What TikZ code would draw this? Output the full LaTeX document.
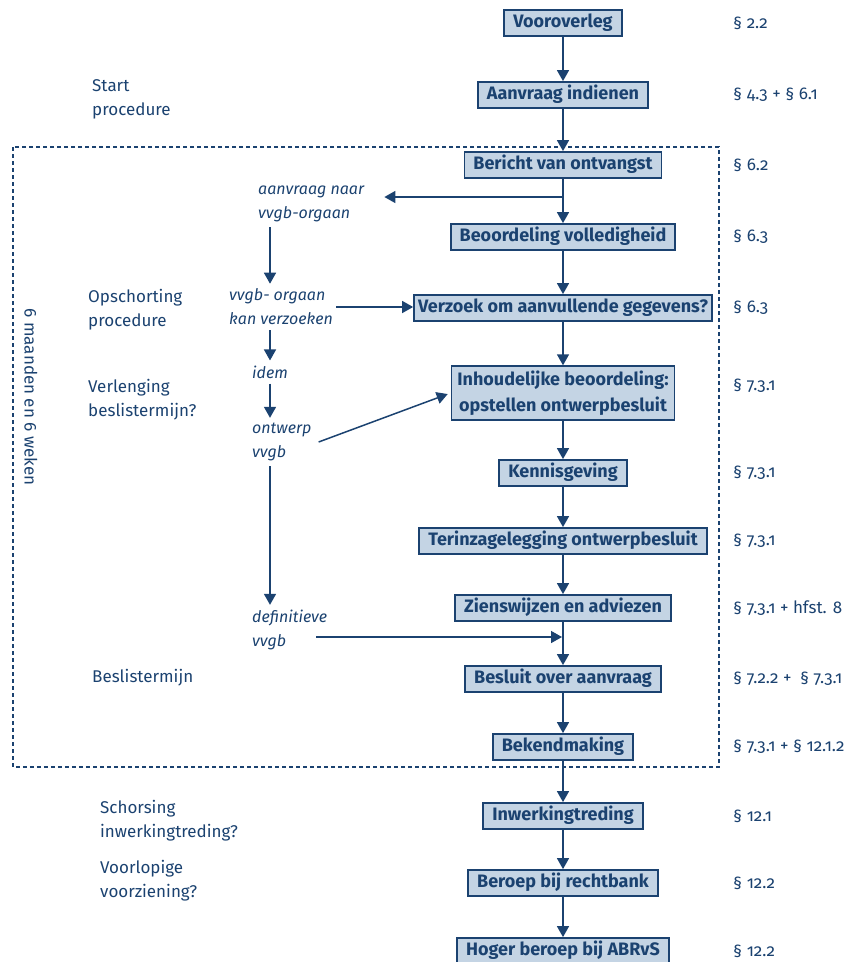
\documentclass[tikz,border=0pt]{standalone}
\usepackage{fontspec}
\setmainfont{Fira Sans}[Numbers=OldStyle]
\usetikzlibrary{arrows.meta,positioning,calc}
\definecolor{rijk}{HTML}{1B4270}
\definecolor{rijkfill}{HTML}{C4D4E4}

\begin{document}
\begin{tikzpicture}[
  x=1pt, y=-1pt,
  every node/.style={text=rijk},
  box/.style={draw=rijk, fill=rijkfill, line width=1.8pt, font=\bfseries\fontsize{18}{22}\selectfont, inner xsep=9pt, inner ysep=0pt, minimum height=26pt, text height=13pt, text depth=4pt},
  twobox/.style={draw=rijk, fill=rijkfill, line width=1.8pt, align=center, font=\bfseries\fontsize{18}{26}\selectfont, inner xsep=6pt, inner ysep=4.5pt},
  phase/.style={anchor=west, align=left, inner sep=0pt, font=\fontsize{17}{24}\selectfont},
  aside/.style={anchor=west, align=left, inner xsep=0pt, inner ysep=5pt, font=\itshape\fontsize{16}{24}\selectfont},
  ref/.style={anchor=west, inner sep=0pt, font=\fontsize{17}{20}\selectfont},
  arrow/.style={-{Triangle[length=11pt, width=12pt]}, line width=1.5pt, draw=rijk}
]
\useasboundingbox (0,0) rectangle (866,962);

% main procedure
\node[box] (voor) at (563,23) {Vooroverleg};
\node[box] (indienen) at (563,95) {Aanvraag indienen};
\node[box] (bericht) at (563,165) {Bericht van ontvangst};
\node[box] (volledig) at (563,237) {Beoordeling volledigheid};
\node[box, inner xsep=4pt] (verzoek) at (563,308) {Verzoek om aanvullende gegevens?};
\node[twobox] (inhoud) at (563,393) {Inhoudelijke beoordeling:\\opstellen ontwerpbesluit};
\node[box] (kennis) at (563,473) {Kennisgeving};
\node[box] (terinzage) at (563,541) {Terinzagelegging ontwerpbesluit};
\node[box] (zienswijze) at (563,608) {Zienswijzen en adviezen};
\node[box] (besluit) at (563,679) {Besluit over aanvraag};
\node[box] (bekend) at (563,747) {Bekendmaking};
\node[box] (inwerking) at (563,816) {Inwerkingtreding};
\node[box] (beroep) at (563,883) {Beroep bij rechtbank};
\node[box] (hoger) at (563,951) {Hoger beroep bij ABRvS};

\foreach \a/\b in {voor/indienen, indienen/bericht, bericht/volledig, volledig/verzoek, verzoek/inhoud, inhoud/kennis, kennis/terinzage, terinzage/zienswijze, zienswijze/besluit, besluit/bekend, bekend/inwerking, inwerking/beroep, beroep/hoger}
  \draw[arrow] (\a) -- (\b);

% 6 months frame
\draw[rijk, line width=1.5pt, dash pattern=on 4pt off 3pt] (13,147) rectangle (719,767);
\node[rotate=-90, font=\fontsize{17}{20}\selectfont] (duur) at (31,397) {6 maanden en 6 weken};

% phases
\node[phase] (start) at (92,99) {Start\\procedure};
\node[phase] (opschort) at (88,310) {Opschorting\\procedure};
\node[phase] (verleng) at (88,400) {Verlenging\\beslistermijn?};
\node[phase] (termijn) at (92,678) {Beslistermijn};
\node[phase] (schors) at (100,821) {Schorsing\\inwerkingtreding?};
\node[phase] (voorl) at (100,881) {Voorlopige\\voorziening?};

% vvgb lane
\coordinate (lane) at (270,0);
\coordinate (split) at (563,197);
\coordinate (merge) at (563,637);
\node[aside] (naar) at (258,204) {aanvraag naar\\vvgb-orgaan};
\node[aside] (orgaan) at (229,307) {vvgb- orgaan\\kan verzoeken};
\node[aside] (idem) at (252,372) {idem};
\node[aside] (ontwerp) at (252,442) {ontwerp\\vvgb};
\node[aside] (defin) at (252,630) {definitieve\\vvgb};

\draw[arrow] (split) -- ([xshift=20pt]naar.east |- split);
\draw[arrow] (naar.south -| lane) -- (orgaan.north -| lane);
\draw[arrow] (orgaan.south -| lane) -- (idem.north -| lane);
\draw[arrow] (idem.south -| lane) -- (ontwerp.north -| lane);
\draw[arrow] (ontwerp.south -| lane) -- (defin.north -| lane);
\draw[arrow] ([xshift=3pt]orgaan.east) -- (orgaan.east -| verzoek.west);
\draw[arrow, shorten >=3pt] ([xshift=7pt]ontwerp.east) -- (inhoud.west);
\draw[arrow, shorten >=1pt] ([xshift=-11pt]defin.east |- merge) -- (merge);

% paragraph references
\coordinate (refcol) at (733,0);
\foreach \n/\t in {voor/{§ 2.2}, indienen/{§ 4.3 + § 6.1}, bericht/{§ 6.2}, volledig/{§ 6.3}, verzoek/{§ 6.3}, kennis/{§ 7.3.1}, terinzage/{§ 7.3.1}, zienswijze/{§ 7.3.1 + hfst. 8}, besluit/{§ 7.2.2 +\enspace§ 7.3.1}, bekend/{§ 7.3.1 + § 12.1.2}, inwerking/{§ 12.1}, beroep/{§ 12.2}, hoger/{§ 12.2}}
  \node[ref] (ref-\n) at (refcol |- \n) {\t};
\node[ref] (ref-inhoud) at ([yshift=7pt]refcol |- inhoud) {§ 7.3.1};

\end{tikzpicture}
\end{document}
